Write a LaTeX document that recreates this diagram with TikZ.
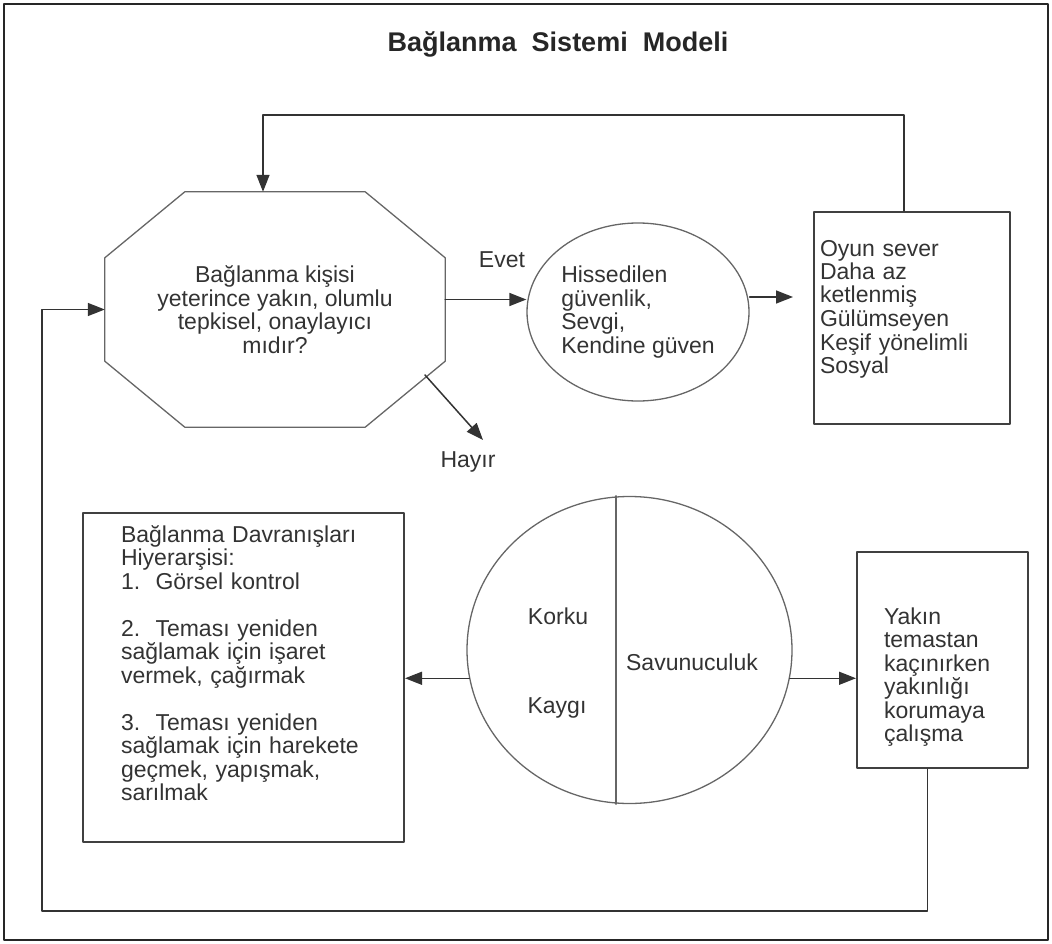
\documentclass[tikz,border=0pt]{standalone}
\usepackage{fontspec}
\setmainfont{Liberation Sans}
\usetikzlibrary{arrows.meta,shapes.geometric,positioning}
\begin{document}
\begin{tikzpicture}[x=1pt, y=-1pt, line join=round, line cap=round,
		font=\fontsize{23}{23.5}\selectfont, >={Triangle[length=17pt,width=13pt]},
		yazi/.style={text=black!80},
		kutu/.style={draw=black!75, line width=2pt, anchor=north, inner ysep=0pt, align=left, yazi},
		cizgi/.style={draw=black!60, line width=1.3pt},
		ok/.style={->, draw=black!80, line width=1.5pt}]
	\def\cx{80} \def\cy{66} % pah
	\useasboundingbox (0,0) rectangle (1052,944);
	\draw[line width=1.5pt, black!85] (4,4) rectangle (1048,940);
	\node[font=\bfseries\fontsize{27}{30}\selectfont, text=black!85] (title) at (558,44) {Bağlanma\ \ Sistemi\ \ Modeli};
	% ust satir
	\node[minimum width=340pt, minimum height=235pt, align=center, yazi] (ques) at (275,309.5) {Bağlanma kişisi\\yeterince yakın, olumlu\\tepkisel, onaylayıcı\\mıdır?};
	\draw[cizgi] ([xshift=\cx pt]ques.north west) -- ([xshift=-\cx pt]ques.north east) -- ([yshift=-\cy pt]ques.north east) -- ([yshift=\cy pt]ques.south east) -- ([xshift=-\cx pt]ques.south east) -- ([xshift=\cx pt]ques.south west) -- ([yshift=\cy pt]ques.south west) -- ([yshift=-\cy pt]ques.north west) -- cycle;
	\node[ellipse, cizgi, minimum width=222pt, minimum height=178pt, inner sep=0pt, align=left, yazi] (safe) at (638,312) {Hissedilen\\güvenlik,\\Sevgi,\\Kendine güven};
	\node[kutu, text width=184pt, inner xsep=6pt, text height=44pt, text depth=168pt] (mood) at (912,211) {Oyun sever\\Daha az\\ketlenmiş\\Gülümseyen\\Keşif yönelimli\\Sosyal};
	\node[yazi] (yes) at (502,260) {Evet};
	\node[yazi] (no) at (468,462) {Hayır};
	\coordinate (gap) at (793,297);
	\coordinate (nostart) at (425,375);
	\coordinate (noend) at (483,440);
	\coordinate (topleft) at (263,115);
	\draw[ok] ([yshift=10pt]ques.east) -- ([yshift=10pt]ques.east -| safe.west);
	\draw[ok] (gap -| safe.east) -- (gap);
	\draw[ok] (nostart) -- (noend);
	\draw[ok] ([xshift=-8pt]mood.north) |- (topleft) -- (topleft |- ques.north);
	% alt satir
	\node[ellipse, cizgi, minimum width=325pt, minimum height=307pt] (emo) at (629.5,650) {};
	\draw[cizgi] ([xshift=-13.5pt]emo.north) -- ([xshift=-13.5pt]emo.south);
	\node[yazi] (fear) at (558,616) {Korku};
	\node[yazi] (worry) at (557,708) {Kaygı};
	\node[yazi] (def) at (692,662) {Savunuculuk};
	\node[kutu, text width=245pt, inner xsep=38pt, text height=29pt, text depth=300pt] (hier) at (243.5,512) {Bağlanma Davranışları\\Hiyerarşisi:\\1.\ \ Görsel kontrol\\[23.5pt]2.\ \ Teması yeniden\\sağlamak için işaret\\vermek, çağırmak\\[23.5pt]3.\ \ Teması yeniden\\sağlamak için harekete\\geçmek, yapışmak,\\sarılmak};
	\node[kutu, text width=117pt, inner xsep=27pt, text height=72pt, text depth=144pt] (keep) at (942.5,551) {Yakın\\temastan\\kaçınırken\\yakınlığı\\korumaya\\çalışma};
	\coordinate (lowleft) at (42,911);
	\draw[ok] (emo.190) -- (emo.190 -| hier.east);
	\draw[ok] (emo.350) -- (emo.350 -| keep.west);
	\draw[ok] ([xshift=-15pt]keep.south) |- (lowleft) |- (ques.west);
\end{tikzpicture}
\end{document}
